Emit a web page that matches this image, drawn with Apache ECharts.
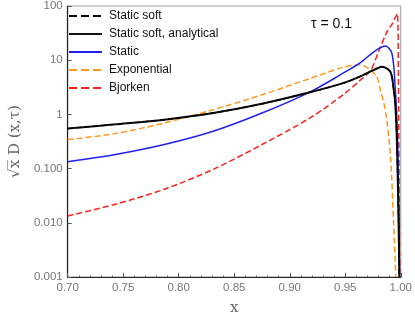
<!DOCTYPE html>
<html>
<head>
<meta charset="utf-8">
<script src="https://cdn.jsdelivr.net/npm/echarts@6/dist/echarts.min.js"></script>
<style>html,body{margin:0;padding:0;background:#fff}#c{width:415px;height:321px}</style>
</head>
<body>
<div id="c"></div>
<script>
const seriesNames = ['Static soft', 'Static soft, analytical', 'Static', 'Exponential', 'Bjorken'];

const xSoft = [0.70, 0.743, 0.787, 0.831, 0.875, 0.919, 0.948, 0.963, 0.977, 0.983, 0.9906, 0.9935, 0.995, 0.9965, 0.998, 0.9987];
const ySoft = [0.547, 0.656, 0.80, 1.06, 1.57, 2.58, 3.77, 4.98, 6.8, 7.6, 6.1, 3.0, 1.6, 0.3, 0.01, 0.001];

const xAnalytical = [0.70, 0.743, 0.787, 0.831, 0.875, 0.919, 0.948, 0.963, 0.977, 0.983, 0.9906, 0.9935, 0.995, 0.9965, 0.998, 0.9987];
const yAnalytical = [0.547, 0.656, 0.80, 1.06, 1.57, 2.58, 3.77, 4.98, 6.8, 7.6, 6.1, 3.0, 1.6, 0.3, 0.01, 0.001];

const xStatic = [0.70, 0.743, 0.787, 0.831, 0.875, 0.919, 0.948, 0.963, 0.977, 0.9862, 0.992, 0.995, 0.997, 0.998, 0.9988];
const yStatic = [0.134, 0.182, 0.278, 0.488, 1.06, 2.64, 5.75, 8.8, 14.9, 18.2, 13.4, 3.0, 0.4, 0.03, 0.001];

const xExponential = [0.70, 0.743, 0.787, 0.831, 0.875, 0.919, 0.948, 0.963, 0.9774, 0.9818, 0.9862, 0.9906, 0.9935, 0.9955];
const yExponential = [0.343, 0.443, 0.695, 1.22, 2.3, 4.66, 7.4, 8.2, 5.3, 2.7, 1.15, 0.18, 0.01, 0.001];

const xBjorken = [0.70, 0.743, 0.787, 0.831, 0.875, 0.919, 0.948, 0.963, 0.973, 0.980, 0.9877, 0.992, 0.9968, 0.9978, 0.9985, 0.999];
const yBjorken = [0.0134, 0.022, 0.0416, 0.097, 0.278, 0.88, 2.3, 4.2, 6.6, 14.5, 34, 46, 72, 5, 0.05, 0.001];

const xTicks = [0.70, 0.75, 0.80, 0.85, 0.90, 0.95, 1.00];
const yTickValues = [0.001, 0.01, 0.1, 1, 10, 100];
const yTickLabels = ['0.001', '0.010', '0.100', '1', '10', '100'];

function pairs(xs, ys) { return xs.map((x, i) => [x, ys[i]]); }

const colors = ['#000000', '#111111', '#2020f0', '#ff9a1f', '#ff2020'];
const types = ['dashed', 'solid', 'solid', 'dashed', 'dashed'];
const widths = [1.4, 2, 1.5, 1.5, 1.5];
const datas = [pairs(xSoft, ySoft), pairs(xAnalytical, yAnalytical), pairs(xStatic, yStatic), pairs(xExponential, yExponential), pairs(xBjorken, yBjorken)];
const order = [1, 0, 2, 3, 4];

const chart = echarts.init(document.getElementById('c'), null, {renderer: 'canvas'});
chart.setOption({
  animation: false,
  grid: {left: 61, right: 12.5, top: 5.7, bottom: 42.7, show: true, borderColor: '#999', borderWidth: 1, backgroundColor: 'transparent'},
  legend: {
    data: seriesNames,
    orient: 'vertical', left: 68, top: 10, padding: 0,
    itemWidth: 33, itemHeight: 14, itemGap: 6,
    itemStyle: {opacity: 0},
    textStyle: {fontSize: 12, color: '#111', fontFamily: 'Liberation Sans, Arial, sans-serif', padding: [0, 0, 0, 2]}
  },
  xAxis: {
    type: 'value', min: 0.70, max: 1.00, interval: 0.05,
    axisLine: {lineStyle: {color: '#222', width: 1.2}},
    axisTick: {inside: true, length: 4, lineStyle: {color: '#555'}},
    minorTick: {show: true, splitNumber: 5, length: 2, lineStyle: {color: '#888'}},
    splitLine: {show: false},
    axisLabel: {color: '#777', fontSize: 11.5, fontFamily: 'Liberation Sans, Arial, sans-serif', margin: 5,
      formatter: v => { const t = xTicks.find(a => Math.abs(a - v) < 1e-6); return t === undefined ? '' : t.toFixed(2); }},
    name: 'x', nameLocation: 'middle', nameGap: 24,
    nameTextStyle: {color: '#666', fontSize: 15, fontFamily: 'DejaVu Serif, serif'}
  },
  yAxis: {
    type: 'log', min: 0.001, max: 100, logBase: 10,
    axisLine: {show: true, lineStyle: {color: '#222', width: 1.2}},
    axisTick: {show: true, inside: true, length: 4, lineStyle: {color: '#555'}},
    splitLine: {show: false},
    axisLabel: {color: '#777', fontSize: 11.5, fontFamily: 'Liberation Sans, Arial, sans-serif', margin: 5,
      formatter: v => { const i = yTickValues.findIndex(a => Math.abs(Math.log10(a) - Math.log10(v)) < 1e-6); return i < 0 ? '' : yTickLabels[i]; }},
    name: '√x̅ D (x,τ)', nameLocation: 'middle', nameGap: 40, nameRotate: 90,
    nameTextStyle: {color: '#666', fontSize: 15, fontFamily: 'DejaVu Serif, serif'}
  },
  graphic: [{
    type: 'text', left: 311, top: 17,
    style: {text: 'τ = 0.1', fontSize: 14, fill: '#111', fontFamily: 'Liberation Sans, Arial, sans-serif'}
  }],
  series: order.map(i => ({
    name: seriesNames[i], type: 'line', data: datas[i], symbol: 'none', showSymbol: false,
    smooth: 0.3, z: 10 - i,
    lineStyle: {color: colors[i], type: types[i], width: widths[i]},
    itemStyle: {color: colors[i]}
  }))
});
</script>
</body>
</html>
